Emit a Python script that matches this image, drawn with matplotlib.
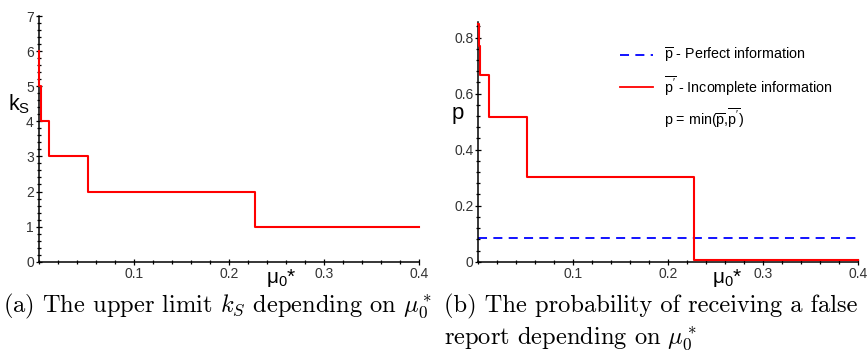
import matplotlib
matplotlib.use("Agg")
import matplotlib.pyplot as plt
from matplotlib.lines import Line2D
from matplotlib.ticker import MultipleLocator, FixedLocator, FixedFormatter

plt.rcParams['font.family'] = ['Liberation Sans', 'DejaVu Sans']
plt.rcParams['mathtext.fontset'] = 'custom'
plt.rcParams['mathtext.rm'] = 'Liberation Sans'
plt.rcParams['mathtext.it'] = 'Liberation Sans:italic'
plt.rcParams['mathtext.bf'] = 'Liberation Sans:bold'

# step data (value holds from x until the next x)
mu_k = [0.0, 0.0004, 0.0020, 0.0112, 0.0515, 0.2277]
k_s = [6, 5, 4, 3, 2, 1]

mu_p = [0.0, 0.0004, 0.0022, 0.0112, 0.0512, 0.2274]
p_incomplete = [0.85, 0.77, 0.665, 0.517, 0.304, 0.005]
p_perfect = 0.083

x_max = 0.4
x_ticks = [0.1, 0.2, 0.3, 0.4]
x_tick_labels = ["0.1", "0.2", "0.3", "0.4"]
k_ticks = [0, 1, 2, 3, 4, 5, 6, 7]
p_ticks = [0, 0.2, 0.4, 0.6, 0.8]
p_tick_labels = ["0", "0.2", "0.4", "0.6", "0.8"]

TICK_COLOR = "#333333"

fig = plt.figure(figsize=(8.68, 3.54), dpi=100)
ax1 = fig.add_axes([0.0446, 0.2607, 0.4385, 0.6941])
ax2 = fig.add_axes([0.5510, 0.2607, 0.4378, 0.6780])


def style_axes(ax):
    for side in ("top", "right"):
        ax.spines[side].set_visible(False)
    for side in ("left", "bottom"):
        ax.spines[side].set_linewidth(1.1)
        ax.spines[side].set_color("black")
    ax.tick_params(which="major", direction="inout", length=5, width=0.9,
                   labelsize=10, labelcolor=TICK_COLOR, pad=1)
    ax.tick_params(which="minor", direction="inout", length=3, width=0.9)
    ax.xaxis.set_major_locator(FixedLocator(x_ticks))
    ax.xaxis.set_major_formatter(FixedFormatter(x_tick_labels))
    ax.xaxis.set_minor_locator(MultipleLocator(0.02))
    ax.set_xlim(0, x_max)


# (a) upper limit k_S
style_axes(ax1)
ax1.step(mu_k + [x_max], k_s + [k_s[-1]], where="post", color="red", lw=1.5,
         zorder=5, clip_on=False)
ax1.set_ylim(0, 7)
ax1.yaxis.set_major_locator(FixedLocator(k_ticks))
ax1.yaxis.set_minor_locator(MultipleLocator(0.2))

# (b) probability of a false report
style_axes(ax2)
ax2.axhline(p_perfect, color="blue", lw=1.3, ls=(0, (5, 3.5)))
ax2.step(mu_p + [x_max], p_incomplete + [p_incomplete[-1]], where="post",
         color="red", lw=1.5, zorder=5, clip_on=False)
ax2.set_ylim(0, 0.857)
ax2.yaxis.set_major_locator(FixedLocator(p_ticks))
ax2.yaxis.set_major_formatter(FixedFormatter(p_tick_labels))
ax2.yaxis.set_minor_locator(MultipleLocator(0.04))

handles = [
    Line2D([], [], color="blue", lw=1.3, ls=(0, (5, 3.5))),
    Line2D([], [], color="red", lw=1.3),
    Line2D([], [], color="none"),
]
labels = [
    r"$\overline{\mathrm{p}}$ - Perfect information",
    r"$\overline{\mathrm{p'}}$ - Incomplete information",
    r"p = min($\overline{\mathrm{p}}$,$\overline{\mathrm{p'}}$)",
]
fig.legend(handles, labels, loc="upper left", bbox_to_anchor=(620 / 868, 1 - 46 / 354),
           frameon=False, fontsize=10.3, handlelength=2.3, handletextpad=0.75,
           labelspacing=0.6, borderpad=0, borderaxespad=0)

# axis labels (Maple-style placement)
fig.text(19 / 868, 1 - 104 / 354, r"$\mathrm{k_S}$", fontsize=15.5, ha="center", va="center")
fig.text(458 / 868, 1 - 114 / 354, "p", fontsize=16, ha="center", va="center")
fig.text(266 / 868, 1 - 283 / 354, r"$\mathrm{μ_0}$*", fontsize=15, ha="left", va="baseline")
fig.text(712 / 868, 1 - 283 / 354, r"$\mathrm{μ_0}$*", fontsize=15, ha="left", va="baseline")

# sub-figure captions
cap = dict(family="cmr10", math_fontfamily="cm", fontsize=17.6, ha="left", va="center")
fig.text(3 / 868, 1 - 306 / 354, r"(a) The upper limit $k_S$ depending on $\mu_0^*$", **cap)
fig.text(444 / 868, 1 - 306 / 354, "(b) The probability of receiving a false", **cap)
fig.text(444 / 868, 1 - 338 / 354, r"report depending on $\mu_0^*$", **cap)

fig.savefig("out.png", dpi=100)
